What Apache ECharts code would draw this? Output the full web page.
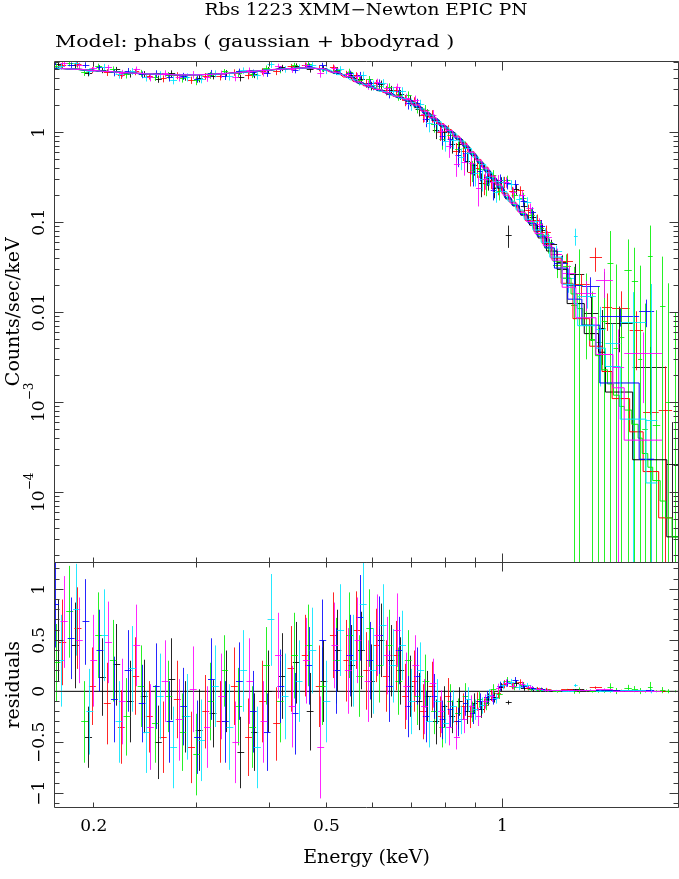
<!DOCTYPE html>
<html><head><meta charset="utf-8">
<script src="https://cdn.jsdelivr.net/npm/echarts@6/dist/echarts.min.js"></script>
<style>html,body{margin:0;padding:0;background:#fff}#c{width:679px;height:879px}</style>
</head><body><div id="c"></div>
<script>
// ---------- text ----------
const TITLE = 'Rbs 1223 XMM\u2212Newton EPIC PN';
const SUBTITLE = 'Model: phabs ( gaussian + bbodyrad )';
const X_NAME = 'Energy (keV)';
const Y_TOP_NAME = 'Counts/sec/keV';
const Y_RES_NAME = 'residuals';

// ---------- axes ----------
const X_MIN = 0.1714, X_MAX = 2.0;
const Y_TOP_MIN = 1.66e-5, Y_TOP_MAX = 6.2;
const Y_RES_MIN = -1.134, Y_RES_MAX = 1.263;
const X_TICK_VALUES = [0.2, 0.5, 1];
const X_TICK_TEXT = ['0.2', '0.5', '1'];
const Y_TOP_TICK_VALUES = [1e-4, 1e-3, 0.01, 0.1, 1];
const Y_TOP_TICK_TEXT = ['{b|10}{s|\u22124}', '{b|10}{s|\u22123}', '0.01', '0.1', '1'];
const Y_RES_TICK_VALUES = [-1, -0.5, 0, 0.5, 1];
const Y_RES_TICK_TEXT = ['\u22121', '\u22120.5', '0', '0.5', '1'];
const X_MAJOR_TICKS = [1];
const X_MINOR_TICKS = [0.2, 0.3, 0.4, 0.5, 0.6, 0.7, 0.8, 0.9, 2];
const Y_RES_MAJOR_TICKS = [-1, -0.5, 0, 0.5, 1];
const Y_RES_MINOR_TICKS = [-1.1, -0.9, -0.8, -0.7, -0.6, -0.4, -0.3, -0.2, -0.1, 0.1, 0.2, 0.3, 0.4, 0.6, 0.7, 0.8, 0.9, 1.1, 1.2];
const Y_TOP_MAJOR_TICKS = [1e-4, 1e-3, 0.01, 0.1, 1];
const Y_TOP_MINOR_MANT = [2, 3, 4, 5, 6, 7, 8, 9];
const Y_TOP_DECADES = [1e-5, 1e-4, 1e-3, 0.01, 0.1, 1];

// ---------- data: [energy keV, half bin width keV, model, residual (data-model), 1-sigma error] ----------
const black = [
 [0.174,0.0024,5.13,0.50,0.40],[0.186,0.0026,5.04,0.45,0.42],[0.196,0.0027,4.94,-0.45,0.30],[0.207,0.0028,4.78,0.14,0.38],
 [0.219,0.0030,4.67,0.26,0.40],[0.231,0.0031,4.56,-0.10,0.40],[0.244,0.0033,4.48,-0.05,0.36],[0.258,0.0035,4.41,-0.50,0.36],
 [0.272,0.0037,4.36,0.12,0.40],[0.287,0.0039,4.35,-0.25,0.35],[0.303,0.0041,4.37,-0.38,0.40],[0.320,0.0043,4.42,-0.22,0.33],
 [0.338,0.0046,4.51,0.00,0.40],[0.357,0.0048,4.63,-0.60,0.35],[0.377,0.0051,4.78,-0.40,0.38],[0.398,0.0054,4.92,0.00,0.40],
 [0.420,0.0057,5.05,0.15,0.42],[0.444,0.0060,5.15,0.28,0.40],[0.469,0.0063,5.19,-0.20,0.38],[0.495,0.0067,5.00,0.10,0.40],
 [0.523,0.0071,4.50,0.40,0.40],
 [0.552,0.0075,4.05,0.25,0.40],[0.574,0.0078,3.48,0.40,0.38],[0.597,0.0081,3.18,0.10,0.36],[0.620,0.0084,2.90,0.50,0.36],
 [0.645,0.0088,2.63,0.30,0.35],[0.670,0.0091,2.42,0.20,0.33],[0.695,0.0094,2.20,0.05,0.30],[0.720,0.0098,1.88,-0.10,0.28],
 [0.745,0.010,1.60,-0.05,0.25],[0.770,0.010,1.36,-0.30,0.22],[0.795,0.010,1.15,-0.15,0.20],[0.820,0.010,0.99,-0.25,0.16],
 [0.845,0.010,0.83,-0.10,0.14],[0.870,0.010,0.68,-0.20,0.12],[0.895,0.010,0.55,-0.12,0.10],[0.920,0.010,0.45,-0.18,0.08],
 [0.945,0.011,0.365,-0.08,0.06],[0.970,0.011,0.295,-0.06,0.05],[0.995,0.011,0.237,0.04,0.04],[1.025,0.012,0.182,-0.11,0.02],
 [1.055,0.013,0.152,0.08,0.03],[1.09,0.015,0.12,0.03,0.025],[1.13,0.017,0.093,0.02,0.02],[1.17,0.019,0.067,0.015,0.015],
 [1.215,0.025,0.048,0.008,0.008],[1.265,0.025,0.030,0.006,0.007],[1.335,0.045,0.0125,0.014,0.008],[1.42,0.04,0.0058,0.004,0.005],
 [1.48,0.02,0.0036,0.003,0.004],[1.585,0.085,0.0013,0.0063,0.004],[1.79,0.12,2.3e-4,0.0022,0.0017],[1.955,0.045,3.2e-5,1.7e-4,4e-4]
];
const red = [
 [0.177,0.0025,5.10,0.48,0.42],[0.188,0.0026,5.02,0.62,0.40],[0.199,0.0027,4.86,0.05,0.38],[0.211,0.0029,4.74,-0.12,0.40],
 [0.223,0.0030,4.63,-0.35,0.36],[0.236,0.0032,4.54,0.15,0.38],[0.249,0.0034,4.46,-0.25,0.35],[0.263,0.0036,4.39,-0.45,0.35],
 [0.278,0.0038,4.35,-0.08,0.38],[0.294,0.0040,4.35,-0.55,0.35],[0.311,0.0042,4.39,-0.20,0.36],[0.329,0.0045,4.47,-0.30,0.40],
 [0.348,0.0047,4.58,0.05,0.38],[0.368,0.0050,4.71,-0.45,0.38],[0.389,0.0053,4.86,-0.10,0.40],[0.411,0.0056,5.00,-0.32,0.36],
 [0.435,0.0059,5.11,0.22,0.42],[0.460,0.0062,5.20,0.35,0.40],[0.486,0.0066,5.12,0.05,0.40],[0.514,0.0070,4.70,0.55,0.42],
 [0.542,0.0074,4.12,0.30,0.40],
 [0.563,0.0077,3.68,0.60,0.38],[0.586,0.0080,3.30,0.20,0.38],[0.609,0.0083,3.02,0.45,0.36],[0.633,0.0086,2.77,0.15,0.35],
 [0.658,0.0090,2.53,0.35,0.34],[0.683,0.0093,2.32,-0.05,0.32],[0.708,0.0096,2.05,0.10,0.30],[0.733,0.010,1.75,-0.20,0.27],
 [0.758,0.010,1.47,0.05,0.24],[0.783,0.010,1.25,-0.25,0.20],[0.808,0.010,1.07,-0.05,0.18],[0.833,0.010,0.91,-0.30,0.15],
 [0.858,0.010,0.76,-0.15,0.13],[0.883,0.010,0.61,-0.25,0.11],[0.908,0.010,0.50,-0.10,0.09],[0.933,0.011,0.41,-0.14,0.07],
 [0.958,0.011,0.33,-0.04,0.055],[0.983,0.011,0.265,-0.02,0.045],[1.01,0.012,0.21,0.07,0.04],[1.04,0.013,0.168,0.05,0.03],
 [1.075,0.014,0.133,0.09,0.028],[1.11,0.016,0.105,0.03,0.022],[1.15,0.018,0.079,0.025,0.018],[1.19,0.02,0.058,0.02,0.014],
 [1.235,0.025,0.040,0.004,0.007],[1.29,0.03,0.021,0.016,0.008],[1.365,0.045,0.0085,0.012,0.006],[1.445,0.035,0.0042,0.036,0.012],
 [1.51,0.03,0.0022,0.009,0.005],[1.595,0.055,0.0011,0.010,0.006],[1.695,0.045,4.7e-4,0.0058,0.004],[1.795,0.055,1.7e-4,6e-4,0.0017],
 [1.90,0.05,5.2e-5,7.5e-4,0.0017]
];
const green = [
 [0.173,0.0024,5.14,0.28,0.38],[0.182,0.0025,5.07,0.78,0.45],[0.193,0.0026,4.92,-0.30,0.40],[0.204,0.0028,4.82,0.55,0.42],
 [0.216,0.0029,4.70,0.30,0.40],[0.228,0.0031,4.59,-0.25,0.38],[0.241,0.0032,4.49,0.05,0.40],[0.255,0.0034,4.42,-0.32,0.38],
 [0.269,0.0036,4.37,-0.05,0.35],[0.284,0.0038,4.35,-0.40,0.38],[0.300,0.0040,4.36,-0.62,0.40],[0.317,0.0043,4.41,-0.10,0.38],
 [0.335,0.0045,4.50,0.20,0.35],[0.354,0.0048,4.62,-0.15,0.38],[0.374,0.0050,4.76,-0.35,0.40],[0.395,0.0053,4.90,0.25,0.38],
 [0.417,0.0056,5.03,-0.10,0.40],[0.441,0.0059,5.14,0.35,0.42],[0.466,0.0063,5.19,0.45,0.40],[0.492,0.0066,5.05,0.05,0.38],
 [0.520,0.0070,4.57,0.30,0.42],
 [0.548,0.0074,4.12,0.55,0.42],[0.570,0.0077,3.57,0.15,0.40],[0.593,0.0080,3.22,0.62,0.38],[0.616,0.0083,2.95,0.25,0.36],
 [0.640,0.0086,2.70,0.45,0.35],[0.665,0.0090,2.47,0.10,0.33],[0.690,0.0093,2.25,0.30,0.30],[0.715,0.0096,1.95,-0.05,0.28],
 [0.740,0.010,1.65,0.10,0.26],[0.765,0.010,1.41,-0.20,0.22],[0.790,0.010,1.19,-0.35,0.20],[0.815,0.010,1.02,-0.10,0.17],
 [0.840,0.010,0.86,-0.22,0.15],[0.865,0.010,0.71,-0.05,0.13],[0.890,0.010,0.58,-0.20,0.10],[0.915,0.010,0.47,-0.08,0.08],
 [0.940,0.011,0.38,-0.12,0.065],[0.965,0.011,0.31,0.02,0.05],[0.990,0.011,0.25,-0.03,0.045],[1.02,0.012,0.19,0.10,0.04],
 [1.05,0.013,0.157,0.04,0.03],[1.085,0.014,0.125,0.06,0.028],[1.12,0.016,0.10,0.02,0.022],[1.16,0.018,0.073,0.012,0.018],
 [1.20,0.02,0.052,0.008,0.015],
 [1.24,0.02,0.037,-0.004,0.009],[1.285,0.025,0.024,0.008,0.012],[1.326,0.016,0.016,-0.004,0.020],[1.357,0.015,0.011,0.009,0.030],
 [1.39,0.018,0.0072,0.0078,0.012],[1.425,0.017,0.0049,0.0001,0.012],[1.46,0.018,0.0033,0.0013,0.015],[1.495,0.017,0.0023,0.0057,0.02],
 [1.53,0.018,0.0016,0.0334,0.045],[1.566,0.018,0.0012,0.0028,0.03],[1.60,0.016,9e-4,0.0043,0.006],[1.64,0.024,8.2e-4,0.0287,0.035],
 [1.685,0.021,5.7e-4,0.0216,0.03],[1.72,0.014,4e-4,0.0026,0.03],[1.753,0.019,2.7e-4,2.3e-4,0.012],[1.79,0.017,1.9e-4,0.0418,0.05],
 [1.834,0.027,1.35e-4,4.2e-4,0.01],[1.88,0.02,8e-5,0.0115,0.03],[1.925,0.025,5.2e-5,9.5e-4,0.02],[1.975,0.025,3.2e-5,0,0.01]
];
const blue = [
 [0.172,0.0024,5.15,0.85,0.42],[0.183,0.0025,5.06,0.52,0.40],[0.194,0.0026,4.91,0.68,0.42],[0.205,0.0028,4.80,0.40,0.40],
 [0.217,0.0029,4.69,-0.08,0.42],[0.229,0.0031,4.58,0.20,0.40],[0.242,0.0032,4.49,-0.12,0.38],[0.256,0.0034,4.42,0.05,0.42],
 [0.270,0.0036,4.37,-0.30,0.40],[0.285,0.0038,4.35,-0.15,0.38],[0.301,0.0040,4.36,-0.45,0.36],[0.318,0.0043,4.41,0.12,0.40],
 [0.336,0.0045,4.51,-0.30,0.40],[0.355,0.0048,4.62,0.10,0.38],[0.375,0.0050,4.77,-0.20,0.40],[0.396,0.0053,4.91,-0.40,0.38],
 [0.418,0.0056,5.04,0.05,0.36],[0.442,0.0059,5.14,-0.22,0.40],[0.467,0.0063,5.19,0.25,0.38],[0.493,0.0066,5.03,0.50,0.40],
 [0.521,0.0070,4.55,0.20,0.42],
 [0.549,0.0074,4.10,0.35,0.40],[0.571,0.0077,3.55,0.72,0.42],[0.594,0.0080,3.21,0.30,0.38],[0.617,0.0083,2.94,0.55,0.38],
 [0.641,0.0086,2.68,0.05,0.35],[0.666,0.0090,2.46,0.40,0.33],[0.691,0.0093,2.24,-0.15,0.30],[0.716,0.0096,1.93,0.15,0.28],
 [0.741,0.010,1.64,-0.25,0.25],[0.766,0.010,1.40,-0.05,0.22],[0.791,0.010,1.18,-0.28,0.19],[0.816,0.010,1.01,-0.18,0.17],
 [0.841,0.010,0.85,-0.30,0.14],[0.866,0.010,0.70,-0.12,0.12],[0.891,0.010,0.57,-0.22,0.10],[0.916,0.010,0.465,-0.10,0.08],
 [0.941,0.011,0.378,-0.06,0.065],[0.966,0.011,0.305,-0.08,0.05],[0.991,0.011,0.245,0.05,0.045],[1.022,0.012,0.187,0.08,0.035],
 [1.053,0.013,0.154,0.11,0.03],[1.088,0.014,0.122,0.05,0.025],[1.125,0.016,0.097,0.03,0.02],[1.165,0.018,0.07,0.02,0.016],
 [1.205,0.022,0.052,0.006,0.008],[1.26,0.033,0.031,0.004,0.007],[1.33,0.037,0.014,0.006,0.006],[1.417,0.05,0.0072,0.0123,0.005],
 [1.59,0.123,0.00164,0.0073,0.002],[1.765,0.052,2.33e-4,0.0101,0.0035]
];
const cyan = [
 [0.176,0.0025,5.11,0.30,0.45],[0.187,0.0026,5.03,0.80,0.45],[0.197,0.0027,4.92,-0.20,0.42],[0.209,0.0028,4.76,0.55,0.45],
 [0.221,0.0030,4.65,-0.30,0.40],[0.233,0.0031,4.55,0.22,0.42],[0.246,0.0033,4.47,-0.40,0.40],[0.260,0.0035,4.40,-0.05,0.42],
 [0.274,0.0037,4.36,-0.55,0.40],[0.289,0.0039,4.35,-0.25,0.42],[0.306,0.0041,4.38,-0.48,0.40],[0.323,0.0044,4.43,0.05,0.40],
 [0.342,0.0046,4.53,-0.35,0.42],[0.361,0.0049,4.66,0.20,0.40],[0.381,0.0052,4.81,-0.55,0.40],[0.402,0.0054,4.94,0.70,0.45],
 [0.425,0.0057,5.07,-0.05,0.42],[0.449,0.0061,5.17,0.10,0.40],[0.474,0.0064,5.18,0.40,0.42],[0.501,0.0068,4.93,-0.10,0.40],
 [0.529,0.0072,4.38,0.60,0.45],
 [0.556,0.0075,3.83,0.30,0.45],[0.578,0.0078,3.42,0.85,0.45],[0.601,0.0081,3.13,0.20,0.42],[0.625,0.0085,2.85,0.65,0.40],
 [0.650,0.0088,2.59,0.25,0.36],[0.675,0.0091,2.38,0.45,0.34],[0.700,0.0095,2.15,-0.10,0.32],[0.725,0.0098,1.82,0.20,0.28],
 [0.750,0.010,1.55,-0.30,0.25],[0.775,0.010,1.32,-0.10,0.22],[0.800,0.010,1.12,-0.32,0.19],[0.825,0.010,0.96,-0.15,0.16],
 [0.850,0.010,0.80,-0.28,0.14],[0.875,0.010,0.66,-0.08,0.12],[0.900,0.010,0.53,-0.18,0.10],[0.925,0.011,0.44,-0.14,0.08],
 [0.950,0.011,0.355,-0.04,0.06],[0.975,0.011,0.285,-0.07,0.05],[1.005,0.012,0.22,0.06,0.04],[1.035,0.013,0.172,0.09,0.032],
 [1.07,0.014,0.137,0.04,0.028],[1.105,0.015,0.108,0.06,0.022],[1.145,0.017,0.082,0.02,0.018],[1.185,0.02,0.06,0.012,0.014],
 [1.235,0.03,0.041,0.006,0.008],[1.295,0.03,0.0205,0.003,0.007],[1.335,0.01,0.0125,0.0575,0.015],[1.395,0.05,0.0071,0.0079,0.004],
 [1.4725,0.0275,0.0040,0.0025,0.005],[1.545,0.045,0.0025,0.002,0.003],[1.675,0.085,6.5e-4,0.0071,0.009],[1.80,0.04,1.27e-4,5e-4,0.02]
];
const magenta = [
 [0.178,0.0025,5.09,0.68,0.45],[0.189,0.0026,5.00,0.50,0.42],[0.200,0.0027,4.85,0.30,0.45],[0.212,0.0029,4.73,0.48,0.40],
 [0.224,0.0030,4.62,-0.10,0.42],[0.237,0.0032,4.53,0.45,0.40],[0.250,0.0034,4.45,-0.35,0.42],[0.265,0.0036,4.39,0.10,0.40],
 [0.280,0.0038,4.35,-0.28,0.40],[0.296,0.0040,4.35,0.02,0.42],[0.313,0.0042,4.39,-0.35,0.40],[0.331,0.0045,4.48,-0.05,0.42],
 [0.350,0.0047,4.59,-0.50,0.40],[0.370,0.0050,4.73,0.10,0.42],[0.391,0.0053,4.87,-0.30,0.40],[0.414,0.0056,5.01,0.35,0.42],
 [0.437,0.0059,5.12,-0.15,0.40],[0.462,0.0062,5.20,0.30,0.42],[0.489,0.0066,5.10,-0.55,0.50],[0.517,0.0070,4.65,0.45,0.42],
 [0.545,0.0074,4.15,0.20,0.42],
 [0.566,0.0077,3.63,0.50,0.42],[0.589,0.0080,3.27,0.10,0.40],[0.612,0.0083,2.99,0.55,0.40],[0.636,0.0086,2.75,0.35,0.38],
 [0.661,0.0090,2.51,0.60,0.36],[0.686,0.0093,2.30,0.05,0.33],[0.711,0.0096,2.01,0.25,0.30],[0.736,0.010,1.72,-0.15,0.27],
 [0.761,0.010,1.45,0.08,0.24],[0.786,0.010,1.23,-0.20,0.21],[0.811,0.010,1.05,-0.35,0.18],[0.836,0.010,0.89,-0.45,0.12],
 [0.861,0.010,0.74,-0.28,0.13],[0.886,0.010,0.60,-0.15,0.11],[0.911,0.010,0.49,-0.25,0.09],[0.936,0.011,0.40,-0.10,0.07],
 [0.961,0.011,0.325,-0.05,0.055],[0.986,0.011,0.26,0.03,0.045],[1.015,0.012,0.20,0.08,0.038],[1.045,0.013,0.163,0.05,0.03],
 [1.08,0.014,0.129,0.07,0.026],[1.115,0.016,0.102,0.04,0.02],[1.155,0.018,0.075,0.02,0.016],[1.195,0.02,0.055,0.012,0.013],
 [1.24,0.025,0.038,0.006,0.007],[1.30,0.035,0.019,0.008,0.006],[1.39,0.055,0.0087,0.0076,0.006],[1.495,0.05,0.0034,0.019,0.008],
 [1.58,0.035,0.00145,0.001,0.004],[1.745,0.13,3.8e-4,0.0031,0.0025]
];

const GROUPS = [
  {bins: black, color: '#000000'},
  {bins: red, color: '#ff0000'},
  {bins: green, color: '#00ee00'},
  {bins: blue, color: '#0000ff'},
  {bins: cyan, color: '#00e5ff'},
  {bins: magenta, color: '#ff00ff'}
];

// ---------- styling ----------
const FONT = 'DejaVu Serif';
const AXIS_COLOR = '#3a3a3a';
const MAJOR_LEN = 9, MINOR_LEN = 5;
const GRID_LEFT = 54.5, GRID_W = 624, TOP_Y = 61, SPLIT_Y = 562.5, BOTTOM_Y = 807;

function crisp(v) { return Math.round(v - 0.5) + 0.5; }

function makeFrame(xMaj, xMin, yMaj, yMin, xRef, yRef) {
  return function (params, api) {
    const cs = params.coordSys;
    const L = cs.x, T = cs.y, R = cs.x + cs.width, B = cs.y + cs.height;
    const kids = [];
    const add = (x1, y1, x2, y2) => kids.push({type: 'line', shape: {x1: x1, y1: y1, x2: x2, y2: y2},
      style: {stroke: AXIS_COLOR, lineWidth: 1}});
    const l = crisp(L), r = crisp(R), t = crisp(T), b = crisp(B);
    add(l, t, r, t); add(l, b, r, b); add(l, t, l, b); add(r, t, r, b);
    const xt = (vals, len) => vals.forEach(v => {
      const x = crisp(api.coord([v, yRef])[0]);
      if (x < L - 1 || x > R + 1) return;
      add(x, b, x, b - len); add(x, t, x, t + len);
    });
    const yt = (vals, len) => vals.forEach(v => {
      const y = crisp(api.coord([xRef, v])[1]);
      if (y < T - 1 || y > B + 1) return;
      add(l, y, l + len, y); add(r, y, r - len, y);
    });
    xt(xMaj, MAJOR_LEN); xt(xMin, MINOR_LEN); yt(yMaj, MAJOR_LEN); yt(yMin, MINOR_LEN);
    return {type: 'group', children: kids};
  };
}

function makeErr(color, isLog) {
  return function (params, api) {
    const cs = params.coordSys;
    const L = cs.x, T = cs.y, R = cs.x + cs.width, B = cs.y + cs.height;
    const e = api.value(0), w = api.value(1), y = api.value(2), s = api.value(3);
    const cX = v => Math.max(L, Math.min(R, v));
    const cY = v => Math.max(T, Math.min(B, v));
    const c = api.coord([e, y]);
    const cx = crisp(c[0]), cy = crisp(c[1]);
    const xl = cX(api.coord([e - w, y])[0]);
    const xr = cX(api.coord([e + w, y])[0]);
    const yTop = cY(api.coord([e, y + s])[1]);
    const lo = y - s;
    const yBot = (isLog && lo <= 0) ? B : cY(api.coord([e, lo])[1]);
    const st = {stroke: color, lineWidth: 1, opacity: 0.85};
    const kids = [];
    if (c[0] >= L && c[0] <= R) kids.push({type: 'line', shape: {x1: cx, y1: yTop, x2: cx, y2: yBot}, style: st});
    if (c[1] >= T && c[1] <= B) kids.push({type: 'line', shape: {x1: xl, y1: cy, x2: xr, y2: cy}, style: st});
    return {type: 'group', children: kids};
  };
}

const yTopMinor = [];
Y_TOP_DECADES.forEach(d => Y_TOP_MINOR_MANT.forEach(m => yTopMinor.push(m * d)));

const series = [];
// zero line of the residual panel
series.push({type: 'line', xAxisIndex: 1, yAxisIndex: 1, data: [[X_MIN, 0], [X_MAX, 0]], symbol: 'none',
  lineStyle: {color: '#000', width: 1}, z: 1, silent: true, animation: false});
GROUPS.forEach(g => {
  series.push({type: 'custom', xAxisIndex: 0, yAxisIndex: 0, renderItem: makeErr(g.color, true),
    data: g.bins.map(b => [b[0], b[1], b[2] + b[3], b[4]]), encode: {x: 0, y: 2}, z: 2, silent: true, animation: false});
  series.push({type: 'custom', xAxisIndex: 1, yAxisIndex: 1, renderItem: makeErr(g.color, false),
    data: g.bins.map(b => [b[0], b[1], b[3], b[4]]), encode: {x: 0, y: 2}, z: 2, silent: true, animation: false});
});
GROUPS.forEach(g => {
  const pts = [];
  g.bins.forEach(b => { pts.push([b[0] - b[1], b[2]]); pts.push([b[0] + b[1], b[2]]); });
  series.push({type: 'line', xAxisIndex: 0, yAxisIndex: 0, data: pts, symbol: 'none', showSymbol: false,
    lineStyle: {color: g.color, width: 1}, z: 3, silent: true, animation: false});
});
series.push({type: 'custom', xAxisIndex: 0, yAxisIndex: 0, data: [[1, 1]], z: 10, silent: true, animation: false,
  renderItem: makeFrame(X_MAJOR_TICKS, X_MINOR_TICKS, Y_TOP_MAJOR_TICKS, yTopMinor, 1, 1)});
series.push({type: 'custom', xAxisIndex: 1, yAxisIndex: 1, data: [[1, 0]], z: 10, silent: true, animation: false,
  renderItem: makeFrame(X_MAJOR_TICKS, X_MINOR_TICKS, Y_RES_MAJOR_TICKS, Y_RES_MINOR_TICKS, 1, 0)});

function pick(values, texts) {
  return v => { for (let i = 0; i < values.length; i++) { if (Math.abs(v - values[i]) <= Math.abs(values[i]) * 1e-6 + 1e-12) return texts[i]; } return ''; };
}

const labelBase = {color: '#000', fontFamily: FONT, fontSize: 17};
const nameStyle = {fontFamily: FONT, fontSize: 19, color: '#000'};
const option = {
  animation: false,
  backgroundColor: '#fff',
  textStyle: {fontFamily: FONT},
  graphic: [
    {type: 'text', x: 366, y: 2.5, scaleX: 1.16, silent: true,
     style: {text: TITLE, fontFamily: FONT, fontSize: 16, fill: '#000', textAlign: 'center', textVerticalAlign: 'top'}},
    {type: 'text', x: 55, y: 34.5, scaleX: 1.29, silent: true,
     style: {text: SUBTITLE, fontFamily: FONT, fontSize: 16, fill: '#000', textAlign: 'left', textVerticalAlign: 'top'}}
  ],
  grid: [
    {left: GRID_LEFT, top: TOP_Y, width: GRID_W, height: SPLIT_Y - TOP_Y, outerBoundsMode: 'none', containLabel: false},
    {left: GRID_LEFT, top: SPLIT_Y, width: GRID_W, height: BOTTOM_Y - SPLIT_Y, outerBoundsMode: 'none', containLabel: false}
  ],
  xAxis: [
    {type: 'log', logBase: 10, gridIndex: 0, min: X_MIN, max: X_MAX, axisLine: {show: false}, axisTick: {show: false},
     axisLabel: {show: false}, splitLine: {show: false}},
    {type: 'log', logBase: 10, gridIndex: 1, min: X_MIN, max: X_MAX, axisLine: {show: false}, axisTick: {show: false},
     splitLine: {show: false},
     axisLabel: Object.assign({customValues: X_TICK_VALUES, margin: 11, formatter: pick(X_TICK_VALUES, X_TICK_TEXT)}, labelBase),
     name: X_NAME, nameLocation: 'middle', nameGap: 42, nameTextStyle: nameStyle}
  ],
  yAxis: [
    {type: 'log', logBase: 10, gridIndex: 0, min: Y_TOP_MIN, max: Y_TOP_MAX, axisLine: {show: false}, axisTick: {show: false},
     splitLine: {show: false},
     axisLabel: Object.assign({customValues: Y_TOP_TICK_VALUES, rotate: 90, margin: 6.5,
       formatter: pick(Y_TOP_TICK_VALUES, Y_TOP_TICK_TEXT),
       rich: {b: {fontFamily: FONT, fontSize: 17, color: '#000', lineHeight: 24, verticalAlign: 'bottom'},
              s: {fontFamily: FONT, fontSize: 12, color: '#000', lineHeight: 12, verticalAlign: 'top'}}}, labelBase),
     name: Y_TOP_NAME, nameLocation: 'middle', nameGap: 31, nameRotate: 90, nameMoveOverlap: false, nameTextStyle: nameStyle},
    {type: 'value', gridIndex: 1, min: Y_RES_MIN, max: Y_RES_MAX, axisLine: {show: false}, axisTick: {show: false},
     splitLine: {show: false},
     axisLabel: Object.assign({customValues: Y_RES_TICK_VALUES, rotate: 90, margin: 6.5,
       formatter: pick(Y_RES_TICK_VALUES, Y_RES_TICK_TEXT)}, labelBase),
     name: Y_RES_NAME, nameLocation: 'middle', nameGap: 31, nameRotate: 90, nameMoveOverlap: false, nameTextStyle: nameStyle}
  ],
  series: series
};

const chart = echarts.init(document.getElementById('c'), null, {renderer: 'canvas'});
chart.setOption(option);
</script>
</body></html>
